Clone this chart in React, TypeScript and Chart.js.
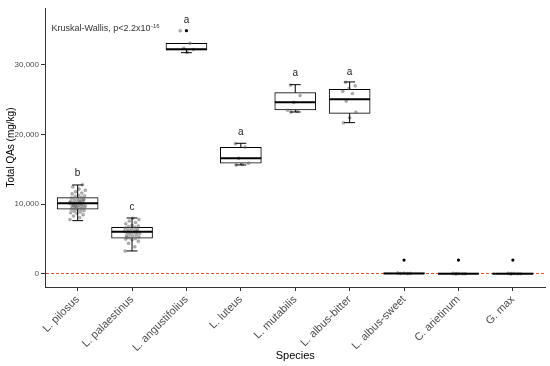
import React, { useEffect, useRef } from "react";
import { Chart, registerables } from "chart.js";
Chart.register(...registerables);

const species = ["L. pilosus", "L. palaestinus", "L. angustifolius", "L. luteus", "L. mutabilis", "L. albus-bitter", "L. albus-sweet", "C. arietinum", "G. max"];
const whiskerLow = [7650, 3300, 31750, 15640, 23240, 21710, 0, 0, 0];
const q1 = [9280, 5120, 32140, 15880, 23530, 23050, 0, 0, 0];
const median = [10140, 6070, 32240, 16600, 24630, 25060, 60, 30, 30];
const q3 = [10950, 6700, 33100, 18170, 26010, 26500, 150, 110, 110];
const whiskerHigh = [12770, 8030, 33100, 18750, 27160, 27550, 200, 200, 200];
const outlierValues = [[], [], [34900], [], [], [], [2000], [2000], [2000]];
const letters = ["b", "c", "a", "a", "a", "a", "", "", ""];
const letterValues = [14490, 9610, 36440, 20370, 28840, 28980, 0, 0, 0];
const yTicks = [0, 10000, 20000, 30000];
const threshold = 150;

const pointsPilosus = [7800, 8100, 8300, 8500, 8700, 8800, 8900, 9000, 9100, 9200, 9300, 9350, 9400, 9500, 9550, 9600, 9700, 9750, 9800, 9900, 9950, 10000, 10050, 10100, 10150, 10200, 10300, 10350, 10400, 10500, 10600, 10700, 10800, 10900, 11000, 11100, 11200, 11300, 11500, 11600, 11800, 12000, 12200, 12500, 12800, 9650, 10250, 10450, 9850, 10650];
const pointsPalaestinus = [3300, 3900, 4400, 4700, 4900, 5000, 5100, 5200, 5300, 5400, 5500, 5600, 5700, 5800, 5900, 5950, 6000, 6050, 6100, 6200, 6300, 6400, 6500, 6600, 6700, 6800, 6900, 7000, 7200, 7400, 7600, 7800, 8000, 5250, 6150];
const pointsAngustifolius = [34900, 33100, 32400, 32200, 31800];
const pointsLuteus = [18700, 18200, 16600, 15900, 15700, 15650];
const pointsMutabilis = [27100, 25600, 24600, 23500, 23300, 23250];
const pointsAlbusBitter = [27500, 27000, 26600, 26200, 25900, 24800, 23200, 22400, 21700];
const pointsAlbusSweet = [60, 80, 120, 150, 40];
const pointsArietinum = [10, 30, 60, 90, 20, 50];
const pointsGmax = [10, 40, 70, 100, 30, 60];
const jitterPoints = [pointsPilosus, pointsPalaestinus, pointsAngustifolius, pointsLuteus, pointsMutabilis, pointsAlbusBitter, pointsAlbusSweet, pointsArietinum, pointsGmax];

const FONT = "'Liberation Sans', Arial, sans-serif";

function jitterOffset(j: number) {
  return (((j * 37) % 23) / 22 - 0.5) * 0.28;
}

const boxPlugin = {
  id: "boxExtras",
  afterDatasetsDraw(chart: any) {
    const { ctx, scales, chartArea } = chart;
    const xs = scales.x;
    const ys = scales.y;
    const unit = xs.getPixelForValue(2) - xs.getPixelForValue(1);
    ctx.save();
    // threshold dashed line
    ctx.strokeStyle = "rgb(214,84,52)";
    ctx.lineWidth = 1;
    ctx.setLineDash([3, 2]);
    const ty = Math.round(ys.getPixelForValue(threshold)) + 0.5;
    ctx.beginPath();
    ctx.moveTo(chartArea.left + 1, ty);
    ctx.lineTo(chartArea.right, ty);
    ctx.stroke();
    ctx.setLineDash([]);

    species.forEach((_, i) => {
      const cx = xs.getPixelForValue(i + 1);
      const half = unit * 0.375;
      const cap = unit * 0.1;
      const yLo = ys.getPixelForValue(whiskerLow[i]);
      const yQ1 = ys.getPixelForValue(q1[i]);
      const yQ3 = ys.getPixelForValue(q3[i]);
      const yHi = ys.getPixelForValue(whiskerHigh[i]);
      const yMed = ys.getPixelForValue(median[i]);
      ctx.strokeStyle = "#000";
      ctx.lineWidth = 1;
      ctx.beginPath();
      if (yLo - yQ1 > 1) {
        ctx.moveTo(cx, yQ1);
        ctx.lineTo(cx, yLo);
        ctx.moveTo(cx - cap, yLo);
        ctx.lineTo(cx + cap, yLo);
      }
      if (yQ3 - yHi > 1) {
        ctx.moveTo(cx, yQ3);
        ctx.lineTo(cx, yHi);
        ctx.moveTo(cx - cap, yHi);
        ctx.lineTo(cx + cap, yHi);
      }
      ctx.stroke();
      ctx.lineWidth = 2;
      ctx.beginPath();
      ctx.moveTo(cx - half, yMed);
      ctx.lineTo(cx + half, yMed);
      ctx.stroke();

      if (letters[i]) {
        ctx.fillStyle = "#222";
        ctx.font = `10px ${FONT}`;
        ctx.textAlign = "center";
        ctx.textBaseline = "middle";
        ctx.fillText(letters[i], cx, ys.getPixelForValue(letterValues[i]));
      }
    });

    // Kruskal-Wallis annotation
    const kx = xs.getPixelForValue(0.52);
    const ky = ys.getPixelForValue(35150);
    ctx.fillStyle = "#333";
    ctx.font = `9px ${FONT}`;
    ctx.textAlign = "left";
    ctx.textBaseline = "middle";
    const main = "Kruskal-Wallis, p<2.2x10";
    ctx.fillText(main, kx, ky);
    const w = ctx.measureText(main).width;
    ctx.font = `6px ${FONT}`;
    ctx.fillText("-16", kx + w + 0.5, ky - 3);
    ctx.restore();
  },
};

export default function App() {
  const ref = useRef<HTMLCanvasElement>(null);
  useEffect(() => {
    document.body.style.margin = "0";
    const jitterData: any[] = [];
    jitterPoints.forEach((arr, i) => {
      arr.forEach((v, j) => jitterData.push({ x: i + 1 + jitterOffset(j + i * 5), y: v }));
    });
    const outlierData: any[] = [];
    outlierValues.forEach((arr, i) => arr.forEach((v) => outlierData.push({ x: i + 1, y: v })));

    const chart = new Chart(ref.current!, {
      type: "bar",
      data: {
        datasets: [
          {
            type: "scatter",
            data: outlierData,
            pointRadius: 1.6,
            pointBackgroundColor: "#000",
            pointBorderWidth: 0,
          } as any,
          {
            type: "scatter",
            data: jitterData,
            pointRadius: 1.5,
            pointBackgroundColor: "rgba(100,100,100,0.5)",
            pointBorderColor: "rgba(100,100,100,0.6)",
            pointBorderWidth: 0.5,
          } as any,
          {
            type: "bar",
            data: species.map((_, i) => ({ x: i + 1, y: [q1[i], q3[i]] })),
            backgroundColor: "#fff",
            borderColor: "#000",
            borderWidth: 1,
            borderSkipped: false,
            barThickness: 41,
          } as any,
        ],
      },
      options: {
        animation: false,
        responsive: false,
        events: [],
        layout: { padding: { top: 8, right: 2, left: 0, bottom: 3 } },
        plugins: { legend: { display: false }, tooltip: { enabled: false } },
        scales: {
          x: {
            type: "linear",
            offset: false,
            min: 0.4,
            max: 9.6,
            afterBuildTicks: (s: any) => {
              s.ticks = species.map((_, i) => ({ value: i + 1 }));
            },
            afterFit: (s: any) => {
              s.height = 76;
            },
            grid: { offset: false, drawOnChartArea: false, tickLength: 4, color: "#333", tickWidth: 1 },
            border: { color: "#333", width: 1 },
            ticks: {
              autoSkip: false,
              maxRotation: 45,
              minRotation: 45,
              padding: 2,
              color: "#4d4d4d",
              font: { family: FONT, size: 11 },
              callback: (v: any) => species[Math.round(v) - 1] ?? "",
            },
            title: { display: true, text: "Species", color: "#000", font: { family: FONT, size: 11 }, padding: { top: 0, bottom: 0 } },
          },
          y: {
            type: "linear",
            min: -1870,
            max: 38160,
            afterBuildTicks: (s: any) => {
              s.ticks = yTicks.map((v) => ({ value: v }));
            },
            afterFit: (s: any) => {
              s.width = 45;
            },
            grid: { drawOnChartArea: false, tickLength: 4, color: "#333" },
            border: { color: "#333", width: 1 },
            ticks: {
              padding: 2,
              color: "#4d4d4d",
              font: { family: FONT, size: 8 },
              callback: (v: any) => Number(v).toLocaleString("en-US"),
            },
            title: { display: true, text: "Total QAs (mg/kg)", color: "#000", font: { family: FONT, size: 10 }, padding: { top: 5, bottom: 0 } },
          },
        },
      } as any,
      plugins: [boxPlugin],
    });
    return () => chart.destroy();
  }, []);
  return (
    <div style={{ width: 550, height: 366 }}>
      <canvas ref={ref} width={550} height={366} style={{ display: "block" }} />
    </div>
  );
}
